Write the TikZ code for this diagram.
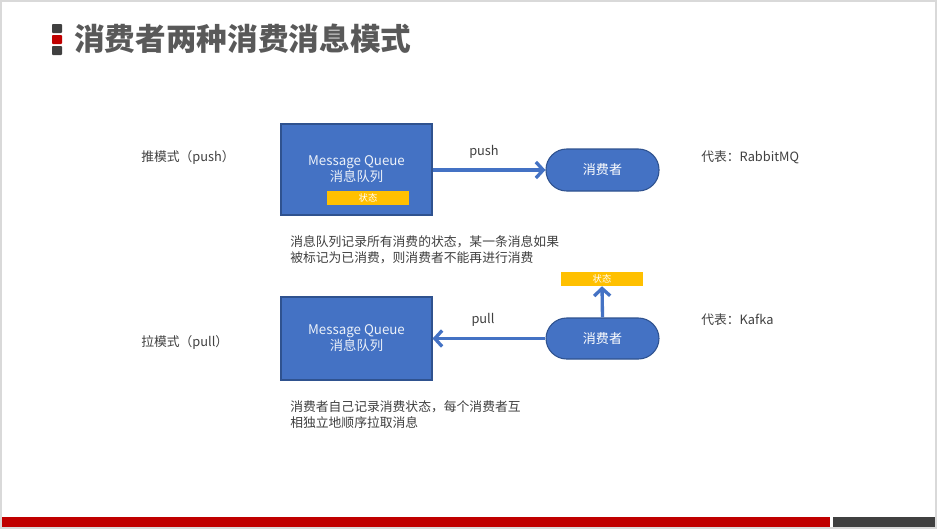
\documentclass[tikz,border=0pt]{standalone}
\usepackage{fontspec}
\setmainfont{Noto Sans CJK SC}
\usetikzlibrary{arrows.meta}
\definecolor{qblue}{HTML}{4472C4}
\definecolor{qedge}{HTML}{2F528F}
\definecolor{qyel}{HTML}{FFC000}
\definecolor{qtxt}{HTML}{404040}
\definecolor{qtitle}{HTML}{595959}
\definecolor{qred}{HTML}{C00000}
\definecolor{qdark}{HTML}{404040}
\definecolor{qframe}{HTML}{D9D9D9}
\tikzset{
  mq/.style={draw=qedge, line width=0.8pt, fill=qblue, inner sep=0pt},
  mqtxt/.style={text=white!90!qblue, font=\fontsize{10}{12.5}\selectfont, align=center, inner sep=0pt},
  cons/.style={draw=qedge, line width=0.8pt, fill=qblue, text=white, rounded corners=15.5pt, font=\fontsize{9.8}{12}\selectfont, inner sep=0pt},
  stbox/.style={fill=qyel, text=white, font=\fontsize{7}{8}\selectfont, inner sep=0pt},
  lbl/.style={text=qtxt, font=\fontsize{9.6}{12}\selectfont, anchor=west, inner sep=0pt},
  para/.style={text=qtxt, font=\fontsize{9.6}{12}\selectfont, anchor=north west, align=left, inner sep=0pt},
  flow/.style={draw=qblue, line width=2.5pt, -{Straight Barb[length=5.5pt,width=12pt,line width=2.5pt]}},
}
\begin{document}
\begin{tikzpicture}[x=0.75pt,y=-0.75pt]
\useasboundingbox (0,0) rectangle (937,529);
\fill[white] (0,0) rectangle (937,529);
\draw[qframe, line width=1.2pt] (1,1) rectangle (936,528);
% title
\fill[qdark, rounded corners=0.6pt] (52,24) rectangle (62,33);
\fill[qred, rounded corners=0.6pt] (52,35) rectangle (62,44);
\fill[qdark, rounded corners=0.6pt] (52,46) rectangle (62,55);
\node[anchor=west, inner sep=0pt, text=qtitle, font=\fontsize{23}{26}\selectfont\bfseries] (title) at (74,39) {消费者两种消费消息模式};
% push mode
\node[lbl] (pushlbl) at (141,157) {推模式（push）};
\node[mq, minimum width=151*0.75pt, minimum height=91*0.75pt] (mq1) at (356.5,169.5) {};
\node[mqtxt] (mq1t) at (356.5,169) {Message Queue\\消息队列};
\node[stbox, minimum width=82*0.75pt, minimum height=14*0.75pt] (st1) at (368,198) {状态};
\node[cons, minimum width=113*0.75pt, minimum height=42*0.75pt] (c1) at (602.5,170) {消费者};
\draw[flow] (mq1.east |- c1.west) -- (c1.west);
\node[text=qtxt, font=\fontsize{9.6}{12}\selectfont, inner sep=0pt] (pushtxt) at (484,152) {push};
\node[lbl] (rep1) at (701,157) {代表：RabbitMQ};
\node[para] (p1) at (290,235) {消息队列记录所有消费的状态，某一条消息如果\\被标记为已消费，则消费者不能再进行消费};
% pull mode
\node[lbl] (pulllbl) at (141,342) {拉模式（pull）};
\node[mq, minimum width=151*0.75pt, minimum height=83*0.75pt] (mq2) at (356.5,338.5) {};
\node[mqtxt] (mq2t) at (356.5,338) {Message Queue\\消息队列};
\node[cons, minimum width=113*0.75pt, minimum height=41*0.75pt] (c2) at (602.5,338.5) {消费者};
\node[stbox, minimum width=82*0.75pt, minimum height=14*0.75pt] (st2) at (602,279) {状态};
\draw[flow] (c2.west) -- (mq2.east |- c2.west);
\draw[flow] (c2.north) -- (st2.south);
\node[text=qtxt, font=\fontsize{9.6}{12}\selectfont, inner sep=0pt] (pulltxt) at (483,320) {pull};
\node[lbl] (rep2) at (701,320) {代表：Kafka};
\node[para] (p2) at (290,400) {消费者自己记录消费状态，每个消费者互\\相独立地顺序拉取消息};
% bottom bars
\fill[qred] (2,517) rectangle (830,527);
\fill[qdark] (833,517) rectangle (935,527);
\end{tikzpicture}
\end{document}
